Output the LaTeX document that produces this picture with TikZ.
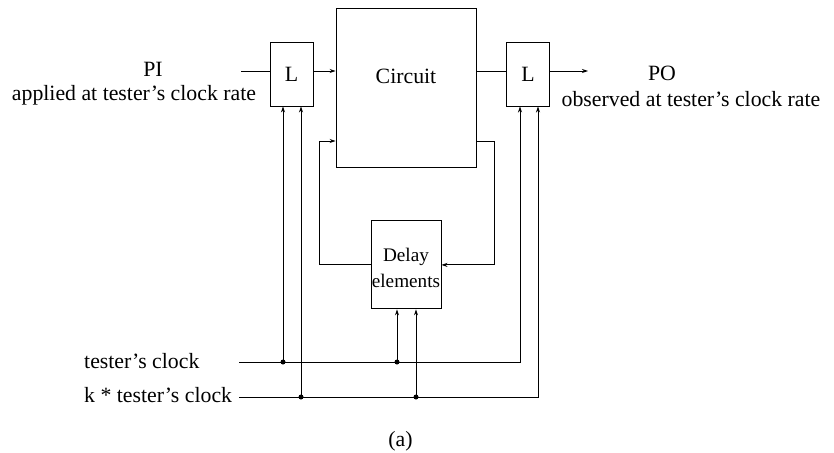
\documentclass[tikz,border=0pt]{standalone}
\usepackage{fontspec}
\setmainfont{Liberation Serif}
\usetikzlibrary{arrows.meta, positioning}

\begin{document}
\begin{tikzpicture}[
    x=1pt, y=-1pt,
    font=\fontsize{21.8}{26}\selectfont,
    latch/.style={rectangle, draw=black, line width=0.9pt, minimum width=43pt, minimum height=64pt, inner sep=0pt},
    block/.style={rectangle, draw=black, line width=0.9pt, minimum width=#1, inner sep=0pt},
    wire/.style={line width=0.9pt},
    arrow/.style={-{Stealth[length=6pt, width=4pt]}, line width=0.9pt},
    dot/.style={circle, fill=black, inner sep=0pt, minimum size=5pt},
    lbl/.style={anchor=base, inner sep=0pt}
]
    \useasboundingbox (0,0) rectangle (834,452);

    % Circuit and latches
    \node[block=140pt, minimum height=159pt] (circuit) at (406,87.5) {};
    \node[lbl] (circuittext) at (406,83) {Circuit};
    \node[latch] (latchL) at (291.5,74) {L};
    \node[latch] (latchR) at (528,74) {L};

    % Delay elements
    \node[block=70pt, minimum height=88pt, below=53pt of circuit] (delay) {};
    \node[align=center, font=\fontsize{19.2}{26.3}\selectfont, inner sep=0pt, yshift=-3pt] (delaytext) at (delay) {Delay\\elements};

    % Primary inputs / outputs
    \coordinate (piin) at (241,71);
    \coordinate (poout) at (588,71);
    \node[lbl] (pi) at (153,76.5) {PI};
    \node[lbl] (pinote) at (134,100.5) {applied at tester's clock rate};
    \node[lbl] (po) at (662,80) {PO};
    \node[lbl] (ponote) at (691,106) {observed at tester's clock rate};

    % Clocks
    \coordinate (clk) at (239,362);
    \coordinate (kclk) at (239,397);
    \node[lbl, anchor=base west] (clklabel) at (84,368) {tester's clock};
    \node[lbl, anchor=base west] (kclklabel) at (84,402) {k * tester's clock};
    \node[dot] (j1) at (283,362) {};
    \node[dot] (j2) at (301,397) {};
    \node[dot] (j3) at (397,362) {};
    \node[dot] (j4) at (416,397) {};

    % Feedback corners
    \coordinate (fbl) at (319,141);
    \coordinate (fbr) at (494,141);

    \node[lbl] (caption) at (400.5,446) {(a)};

    % Data path
    \draw[wire] (piin) -- (piin -| latchL.west);
    \draw[arrow] (latchL.east |- piin) -- (circuit.west |- piin);
    \draw[wire] (circuit.east |- piin) -- (latchR.west |- piin);
    \draw[arrow] (latchR.east |- piin) -- (poout);
    \draw[arrow] (delay.west) -| (fbl) -- (circuit.west |- fbl);
    \draw[arrow] (circuit.east |- fbr) -- (fbr) |- (delay.east);

    % Clock wires
    \draw[arrow] (clk) -| ([xshift=-8pt]latchR.south);
    \draw[arrow] (kclk) -| ([xshift=10pt]latchR.south);
    \draw[arrow] (j1.center) -- (j1 |- latchL.south);
    \draw[arrow] (j2.center) -- (j2 |- latchL.south);
    \draw[arrow] (j3.center) -- (j3 |- delay.south);
    \draw[arrow] (j4.center) -- (j4 |- delay.south);
\end{tikzpicture}
\end{document}
